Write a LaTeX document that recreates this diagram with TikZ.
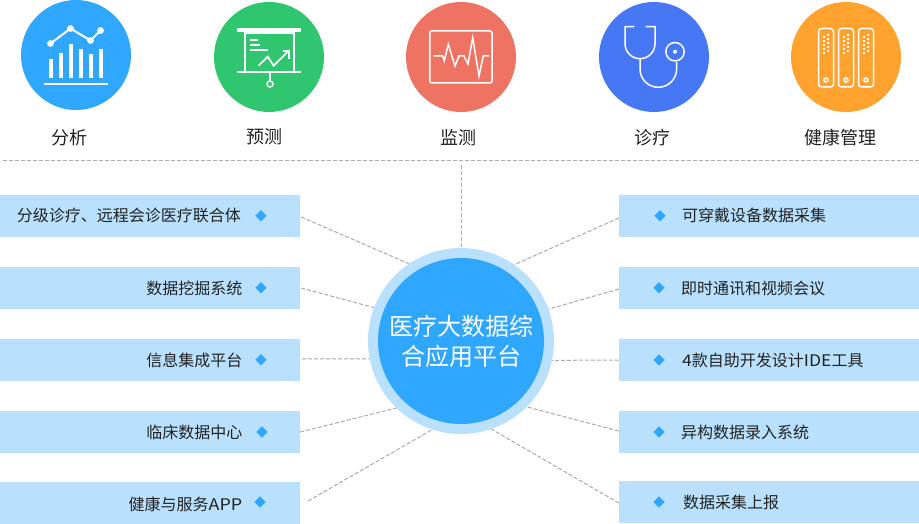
\documentclass[tikz,border=0pt]{standalone}
\usepackage{fontspec}
\setmainfont{Noto Sans CJK SC}
\usetikzlibrary{shapes.geometric}
\definecolor{cblue}{HTML}{30A7FF}
\definecolor{cgreen}{HTML}{30C670}
\definecolor{cred}{HTML}{EF7362}
\definecolor{cindigo}{HTML}{4678F6}
\definecolor{corange}{HTML}{FFA22E}
\definecolor{clight}{HTML}{B9E1FD}
\definecolor{cdash}{HTML}{ABABAB}
\definecolor{ctext}{HTML}{222222}
\newcommand{\fsz}[1]{\fontsize{#1}{#1}\selectfont}
\newcommand{\widelatin}[2]{{\addfontfeature{FakeStretch=#1}#2}}
\tikzset{
  topdisc/.style={circle,minimum size=110pt,inner sep=0pt,draw=none},
  toplabel/.style={inner sep=0pt,text=ctext,font=\fsz{18}},
  bandbox/.style={rectangle,fill=clight,draw=none,minimum width=300pt,minimum height=42pt,inner sep=0pt},
  bandlabel/.style={inner sep=0pt,text=ctext,font=\fsz{16}},
  marker/.style={diamond,fill=cblue,draw=none,minimum width=11.5pt,minimum height=11.5pt,inner sep=0pt},
  link/.style={draw=cdash,line width=1pt,dash pattern=on 4pt off 2pt},
  icon/.style={draw=white,line width=1.5pt},
  iconthick/.style={draw=white,line width=2pt},
  iconfill/.style={fill=white,draw=none}
}
\begin{document}
\begin{tikzpicture}[x=1pt,y=-1pt]
\useasboundingbox (0,0) rectangle (919,524);
\fill[white] (0,0) rectangle (919,524);

% top discs
\node[topdisc,fill=cblue]   (d1) at (76,55) {};
\node[topdisc,fill=cgreen]  (d2) at (269,57) {};
\node[topdisc,fill=cred]    (d3) at (461,57) {};
\node[topdisc,fill=cindigo] (d4) at (654,57) {};
\node[topdisc,fill=corange] (d5) at (846,57) {};

\node[toplabel] (t1) at (69,137.5) {分析};
\node[toplabel] (t2) at (264,136.5) {预测};
\node[toplabel] (t3) at (458,137.5) {监测};
\node[toplabel] (t4) at (652,137.5) {诊疗};
\node[toplabel] (t5) at (840,137.5) {健康管理};

% icon: analysis
\draw[iconthick] (44,84) -- (108,84);
\foreach \x/\t in {49/59,59/53,69/44,79/49,89/54,99/49}
  \fill[white] (\x,\t) rectangle (\x+4,78);
\draw[iconthick] (50.5,43.5) -- (70.5,28.5) -- (90.5,40.5) -- (100.5,30.5);
\fill[white] (50.5,43.5) circle (3.4pt) (70.5,28.5) circle (3.4pt) (90.5,40.5) circle (3.4pt) (100.5,30.5) circle (3.4pt);

% icon: forecast
\fill[white] (237,28) rectangle (301,32);
\fill[white] (237,71) rectangle (301,73);
\draw[icon] (245,32) -- (245,72) (294,32) -- (294,72);
\draw[icon] (245,33) -- (294,33);
\draw[icon] (270,73) -- (270,81);
\draw[icon] (270,84) circle (3pt);
\draw[icon,line width=1.8pt] (250,39.7) -- (257.5,39.7) (250,44.7) -- (260,44.7) (250,49.7) -- (268,49.7);
\draw[icon,line width=1.7pt] (258.5,65.7) -- (267.7,56.7) -- (273.7,65.7) -- (287.5,52);
\draw[icon,line width=1.7pt] (282.7,51) -- (288.7,51) -- (288.7,59);

% icon: monitor
\draw[icon,rounded corners=2pt] (429.8,31) rectangle (492,83);
\draw[icon,line join=miter] (433.3,56) -- (442.7,56) -- (444.3,60.7) -- (448.3,44.3) -- (455,66) -- (459,56) -- (464,56) -- (468,64) -- (472.7,37.7) -- (479,76) -- (483.3,56) -- (489,56);

% icon: stethoscope
\draw[icon] (634.3,26.7) -- (625,26.7) -- (625,43.7) arc[start angle=180,end angle=360,radius=15pt] -- (655,26.7) -- (645.7,26.7);
\draw[icon] (640,58.7) -- (640,69) arc[start angle=180,end angle=360,radius=18.3pt] -- (676.6,62);
\draw[icon] (675,51.7) circle (9.2pt);
\fill[white] (675,51.7) circle (2pt);

% icon: servers
\foreach \x in {818.5,838.5,858.5}{
  \draw[icon,rounded corners=3pt] (\x,28.5) rectangle (\x+15,87);
  \draw[icon] (\x+7.5,80) circle (2pt);
  \foreach \r in {0,1,2,3,4}{
    \fill[white] (\x+4.7,36+4*\r) rectangle (\x+6.7,38+4*\r);
    \fill[white] (\x+8.7,34.5+4*\r) rectangle (\x+10.7,36.5+4*\r);
  }
}

% divider
\coordinate (divL) at (3,160.5);
\coordinate (divR) at (919,160.5);
\draw[link] (divL) -- (divR);

% bands
\node[bandbox] (l1) at (150,216) {};
\node[bandbox] (l2) at (150,288) {};
\node[bandbox] (l3) at (150,360) {};
\node[bandbox] (l4) at (150,432) {};
\node[bandbox] (l5) at (150,503) {};
\node[bandbox] (r1) at (769,216) {};
\node[bandbox] (r2) at (769,288) {};
\node[bandbox] (r3) at (769,360) {};
\node[bandbox] (r4) at (769,432) {};
\node[bandbox] (r5) at (769,502) {};

% hub
\node[circle,fill=clight,draw=none,minimum size=186pt,inner sep=0pt] (hub) at (461,341) {};
\node[circle,fill=cblue,draw=none,minimum size=166pt,inner sep=0pt,text=white,align=center,font=\fontsize{24}{30}\selectfont] (core) at (461,341) {医疗大数据综\\合应用平台};

% connectors
\coordinate (topend) at (461,165);
\coordinate (l5end) at (308,501);
\draw[link] (topend) -- (hub.90);
\draw[link] ([shift={(1,1)}]l1.east) -- (hub.124.5);
\draw[link] ([xshift=1pt]l2.east) -- (hub.159.2);
\draw[link] ([shift={(2,-1)}]l3.east) -- (hub.191.4);
\draw[link] (l4.east) -- (hub.226.7);
\draw[link] (l5end) -- (hub.252);
\draw[link] ([yshift=-2pt]r1.west) -- (hub.55.5);
\draw[link] ([yshift=-1pt]r2.west) -- (hub.20.8);
\draw[link] (r3.west) -- (hub.-12);
\draw[link] ([yshift=1pt]r4.west) -- (hub.-45.9);
\draw[link] ([yshift=-1pt]r5.west) -- (hub.-71.4);

% band labels
\node[bandlabel,anchor=east] (lt1) at (241,215) {分级诊疗、远程会诊医疗联合体};
\node[bandlabel,anchor=east] (lt2) at (242.5,288) {数据挖掘系统};
\node[bandlabel,anchor=east] (lt3) at (242.5,360) {信息集成平台};
\node[bandlabel,anchor=east] (lt4) at (242.5,432) {临床数据中心};
\node[bandlabel,anchor=east] (lt5) at (242.5,504) {健康与服务\widelatin{1.12}{APP}};
\node[bandlabel,anchor=west] (rt1) at (682,215.5) {可穿戴设备数据采集};
\node[bandlabel,anchor=west] (rt2) at (681,288.7) {即时通讯和视频会议};
\node[bandlabel,anchor=west] (rt3) at (682,360.5) {\widelatin{1.1}{4}款自助开发设计\widelatin{1.1}{IDE}工具};
\node[bandlabel,anchor=west] (rt4) at (681,432.5) {异构数据录入系统};
\node[bandlabel,anchor=west] (rt5) at (683,502.5) {数据采集上报};

% markers
\node[marker] (lm1) at (261,215.8) {};
\node[marker] (lm2) at (261,287.8) {};
\node[marker] (lm3) at (261,359.8) {};
\node[marker] (lm4) at (262,432) {};
\node[marker] (lm5) at (260,502) {};
\node[marker] (rm1) at (660,215.8) {};
\node[marker] (rm2) at (659,287.8) {};
\node[marker] (rm3) at (659,360) {};
\node[marker] (rm4) at (659,432) {};
\node[marker] (rm5) at (659,502) {};
\end{tikzpicture}
\end{document}
